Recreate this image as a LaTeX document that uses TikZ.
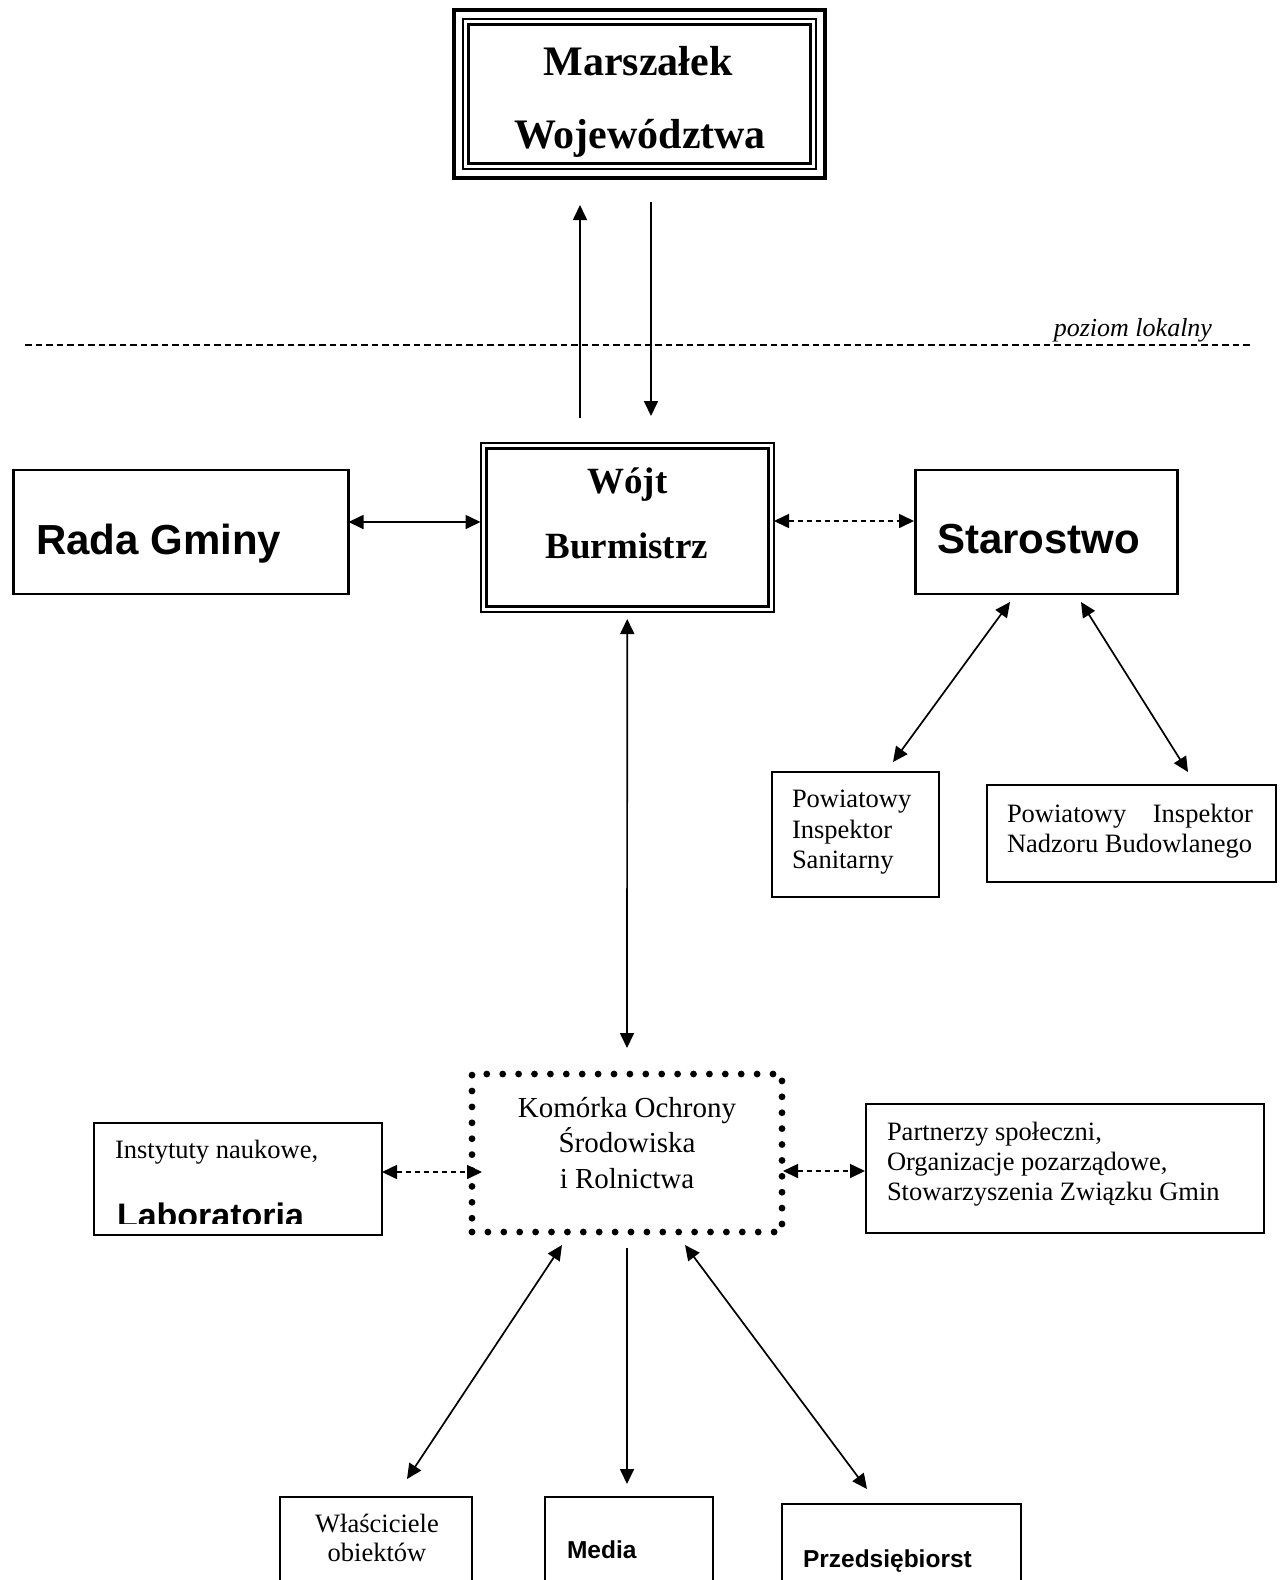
\documentclass[tikz,border=0pt]{standalone}
\usepackage{fontspec}
\setmainfont{Liberation Serif}
\newfontfamily\arialf{Liberation Sans}
\usetikzlibrary{arrows.meta}
\begin{document}
\begin{tikzpicture}[x=1pt,y=-1pt,
  >={Triangle[length=15pt,width=14pt]},
  bx/.style={draw, rectangle, inner sep=0pt, outer sep=0pt},
  txt/.style={inner sep=0pt, outer sep=0pt},
  conn/.style={line width=1.7pt},
  dconn/.style={line width=1.6pt, dash pattern=on 5pt off 4pt},
  bigserif/.style={font=\fontsize{42pt}{50pt}\selectfont\bfseries},
  midserif/.style={font=\fontsize{37pt}{44pt}\selectfont\bfseries},
  bigsans/.style={font=\fontsize{42pt}{50pt}\selectfont\arialf\bfseries},
  komfont/.style={font=\fontsize{29pt}{35pt}\selectfont},
  small/.style={font=\fontsize{26.5pt}{31pt}\selectfont},
  smallsans/.style={font=\fontsize{24.5pt}{30pt}\selectfont\arialf\bfseries}
]
\clip (0,0) rectangle (1280,1580);
\fill[white] (0,0) rectangle (1280,1580);

% Marszalek
\node[bx, line width=4.3pt, minimum width=371pt, minimum height=168pt] (mar) at (639.5,94) {};
\draw[line width=2pt] ([shift={(9,9)}]mar.north west) rectangle ([shift={(-9,-9)}]mar.south east);
\draw[line width=2.7pt] ([shift={(14.5,14.5)}]mar.north west) rectangle ([shift={(-14.5,-14.5)}]mar.south east);
\node[txt, bigserif, anchor=base] (marT1) at (638,75) {Marszałek};
\node[txt, bigserif, anchor=base] (marT2) at (640,148) {Województwa};

% level line
\draw[line width=2.2pt, dash pattern=on 6.5pt off 4pt] (25,345) -- (1253,345);
\node[txt, anchor=base east, font=\fontsize{26pt}{30pt}\selectfont\itshape] (poz) at (1212,336) {poziom lokalny};

% Wojt
\node[bx, line width=2pt, minimum width=293.5pt, minimum height=169.5pt] (wojt) at (627.25,527.25) {};
\draw[line width=3pt] ([shift={(5.5,5.5)}]wojt.north west) rectangle ([shift={(-5.5,-5.5)}]wojt.south east);
\node[txt, midserif, anchor=base] (wojtT1) at (627.5,493) {Wójt};
\node[txt, midserif, anchor=base] (wojtT2) at (626.7,558) {Burmistrz};

% Rada, Starostwo
\node[bx, line width=2.7pt, minimum width=335pt, minimum height=124pt] (rada) at (181,532) {};
\node[txt, bigsans, anchor=base west] (radaT) at (36,554) {Rada Gminy};
\node[bx, line width=2.7pt, minimum width=262pt, minimum height=124pt] (star) at (1046.5,532) {};
\node[txt, bigsans, anchor=base west] (starT) at (937,553) {Starostwo};

% Powiatowi inspektorzy
\node[bx, line width=1.8pt, minimum width=167pt, minimum height=125pt] (san) at (855.3,834.2) {};
\node[txt, small, anchor=base west] (sanT1) at (792,807) {Powiatowy};
\node[txt, small, anchor=base west] (sanT2) at (792,838) {Inspektor};
\node[txt, small, anchor=base west] (sanT3) at (792,868) {Sanitarny};
\node[bx, line width=2.2pt, minimum width=289pt, minimum height=97pt] (nad) at (1131.5,833.5) {};
\node[txt, small, anchor=base west] (nadT1) at (1007,822) {\hbox to 246pt{Powiatowy\hfill Inspektor}};
\node[txt, small, anchor=base west] (nadT2) at (1007,852) {Nadzoru Budowlanego};

% Komorka
\node[bx, line width=6.8pt, line cap=round, dash pattern=on 0pt off 15.9pt, minimum width=310pt, minimum height=158pt] (kom) at (627,1153) {};
\node[txt, komfont, anchor=base] (komT1) at (627,1117) {Komórka Ochrony};
\node[txt, komfont, anchor=base] (komT2) at (627,1152) {Środowiska};
\node[txt, komfont, anchor=base] (komT3) at (627,1188) {i Rolnictwa};

% Instytuty
\node[bx, line width=1.6pt, minimum width=288pt, minimum height=112pt] (inst) at (238,1179) {};
\node[txt, small, anchor=base west] (instT1) at (115,1158) {Instytuty naukowe,};
\begin{scope}
  \clip (95,1124) rectangle (381,1223.3);
  \node[txt, font=\fontsize{34pt}{40pt}\selectfont\arialf\bfseries, anchor=base west] (instT2) at (117,1227.5) {Laboratoria};
\end{scope}

% Partnerzy
\node[bx, line width=1.6pt, minimum width=398pt, minimum height=129pt] (par) at (1065,1168.5) {};
\node[txt, small, anchor=base west] (parT1) at (887,1140) {Partnerzy społeczni,};
\node[txt, small, anchor=base west] (parT2) at (887,1170) {Organizacje pozarządowe,};
\node[txt, small, anchor=base west] (parT3) at (887,1200) {Stowarzyszenia Związku Gmin};

% bottom boxes
\node[bx, line width=1.7pt, minimum width=192pt, minimum height=123pt] (wla) at (376,1558.5) {};
\node[txt, small, anchor=base] (wlaT1) at (377,1532) {Właściciele};
\node[txt, small, anchor=base] (wlaT2) at (377,1561) {obiektów};
\node[bx, line width=1.7pt, minimum width=168pt, minimum height=123pt] (media) at (629,1558.5) {};
\node[txt, smallsans, anchor=base west] (mediaT) at (567,1558) {Media};
\node[bx, line width=1.7pt, minimum width=239pt, minimum height=116pt] (prz) at (901.5,1562) {};
\node[txt, smallsans, anchor=base west] (przT) at (803,1567) {Przedsiębiorst};

% connectors
\draw[conn, ->] ([xshift=-47.25pt, yshift=24.5pt]wojt.north) -- ([xshift=-59.5pt, yshift=-27pt]mar.south);
\draw[conn, ->] ([xshift=11.5pt, yshift=-24pt]mar.south) -- ([xshift=23.75pt, yshift=26.5pt]wojt.north);
\draw[conn, <->] ([yshift=10pt]rada.east) -- ([yshift=5.25pt]wojt.west);
\draw[dconn, <->] ([yshift=6.25pt]wojt.east) -- ([xshift=-1.5pt, yshift=11pt]star.west);
\draw[conn, <->] ([yshift=-7pt]wojt.south) -- ([yshift=26pt]kom.north);
\draw[conn, <->] ([xshift=-36.5pt, yshift=-8pt]star.south) -- ([xshift=37.7pt, yshift=9.7pt]san.north);
\draw[conn, <->] ([xshift=34.5pt, yshift=-8pt]star.south) -- ([xshift=56.5pt, yshift=13pt]nad.north);
\draw[dconn, <->] ([yshift=7pt]inst.east) -- ([xshift=10pt, yshift=-19pt]kom.west);
\draw[dconn, <->] ([xshift=1pt, yshift=-18pt]kom.east) -- ([xshift=-1pt, yshift=-2.5pt]par.west);
\draw[conn, <->] ([xshift=-65pt, yshift=-13pt]kom.south) -- ([xshift=31pt, yshift=18pt]wla.north);
\draw[conn, ->] ([yshift=-16pt]kom.south) -- ([xshift=-2pt, yshift=13pt]media.north);
\draw[conn, <->] ([xshift=58pt, yshift=-13pt]kom.south) -- ([xshift=-34.5pt, yshift=15pt]prz.north);
\end{tikzpicture}
\end{document}
